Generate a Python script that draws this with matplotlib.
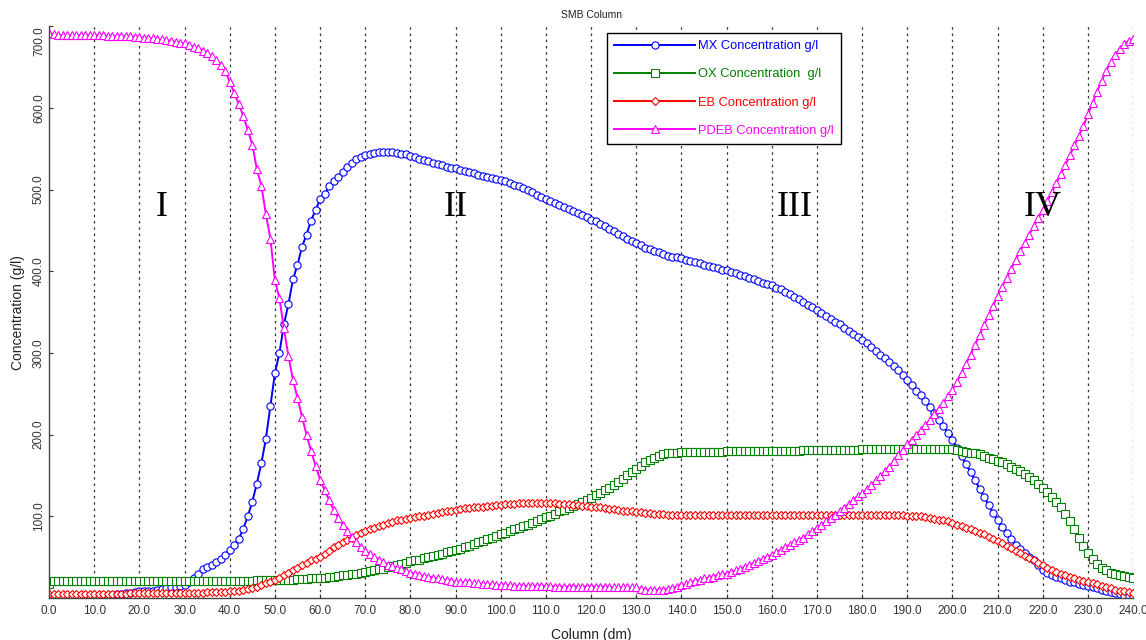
import numpy as np
import matplotlib
matplotlib.use("Agg")
import matplotlib.pyplot as plt

# column position (dm), one sample per dm
column = np.arange(0, 241)

mx = [1, 1, 1, 1, 1, 2, 2, 2, 2, 3,
      3, 3, 4, 4, 4, 5, 5, 6, 6, 7,
      8, 8, 9, 9, 10, 11, 12, 13, 14, 15,
      16, 20, 25, 30, 35, 38, 41, 44, 48, 53,
      59, 65, 72, 85, 100, 118, 140, 165, 195, 235,
      275, 300, 335, 360, 390, 408, 430, 445, 462, 475,
      488, 495, 504, 510, 516, 522, 528, 533, 537, 540,
      542, 544, 545, 546, 546, 546, 546, 545, 544, 543,
      541, 540, 538, 536, 535, 533, 531, 530, 528, 527,
      526, 524, 523, 521, 520, 518, 517, 515, 514, 513,
      512, 510, 508, 506, 504, 502, 499, 497, 494, 491,
      488, 486, 484, 481, 479, 476, 474, 471, 469, 466,
      463, 461, 458, 455, 452, 449, 446, 443, 440, 437,
      435, 432, 429, 427, 425, 423, 421, 419, 418, 417,
      416, 414, 413, 411, 410, 408, 407, 405, 404, 402,
      401, 399, 398, 396, 394, 392, 390, 388, 386, 384,
      383, 380, 378, 375, 372, 369, 366, 363, 359, 356,
      352, 349, 345, 342, 338, 335, 331, 327, 323, 320,
      316, 312, 307, 303, 298, 294, 289, 284, 279, 273,
      267, 261, 254, 248, 241, 234, 226, 218, 210, 202,
      193, 184, 174, 164, 154, 144, 134, 124, 114, 104,
      95, 87, 79, 72, 65, 60, 55, 50, 46, 40,
      34, 31, 28, 26, 24, 22, 20, 19, 17, 16,
      15, 14, 12, 10, 9, 7, 6, 5, 3, 2,
      1]

ox = [17, 21, 21, 21, 21, 21, 21, 21, 21, 21,
      21, 21, 21, 21, 21, 21, 21, 21, 21, 21,
      21, 21, 21, 21, 21, 21, 21, 21, 21, 21,
      21, 21, 21, 21, 21, 21, 21, 21, 21, 21,
      21, 21, 21, 21, 21, 21, 22, 22, 22, 22,
      22, 22, 22, 22, 22, 23, 23, 23, 24, 24,
      25, 25, 26, 26, 27, 28, 28, 29, 30, 31,
      32, 33, 34, 35, 36, 38, 39, 40, 42, 43,
      45, 46, 47, 49, 50, 51, 53, 54, 56, 57,
      59, 60, 62, 64, 66, 68, 70, 72, 74, 76,
      78, 80, 82, 84, 86, 88, 90, 92, 94, 97,
      99, 101, 103, 106, 108, 110, 113, 115, 118, 120,
      123, 126, 129, 132, 135, 138, 142, 146, 150, 154,
      158, 162, 166, 169, 172, 174, 176, 177, 178, 178,
      179, 179, 179, 179, 179, 179, 179, 179, 179, 179,
      180, 180, 180, 180, 180, 180, 180, 180, 180, 180,
      180, 180, 180, 180, 180, 180, 180, 181, 181, 181,
      181, 181, 181, 181, 181, 181, 181, 181, 181, 181,
      182, 182, 182, 182, 182, 182, 182, 182, 182, 182,
      182, 182, 182, 182, 182, 182, 182, 182, 182, 182,
      182, 181, 180, 179, 178, 177, 176, 174, 172, 170,
      168, 166, 164, 161, 158, 155, 152, 148, 144, 140,
      135, 130, 124, 118, 111, 103, 94, 84, 74, 64,
      55, 48, 42, 37, 34, 31, 29, 28, 27, 26,
      25]

eb = [5, 5, 5, 5, 5, 5, 5, 5, 5, 5,
      5, 5, 5, 5, 5, 5, 5, 5, 6, 6,
      6, 6, 6, 6, 6, 6, 6, 6, 6, 6,
      6, 6, 6, 6, 6, 7, 7, 7, 7, 7,
      8, 8, 9, 10, 11, 12, 14, 16, 18, 20,
      22, 25, 28, 31, 34, 37, 40, 43, 46, 48,
      50, 54, 58, 62, 65, 68, 71, 74, 77, 80,
      82, 84, 86, 88, 90, 92, 93, 95, 96, 97,
      98, 99, 100, 101, 102, 103, 104, 105, 106, 107,
      108, 109, 110, 110, 111, 112, 112, 113, 113, 114,
      114, 115, 115, 115, 116, 116, 116, 116, 116, 116,
      116, 116, 116, 115, 115, 115, 114, 114, 113, 113,
      112, 111, 111, 110, 109, 109, 108, 107, 107, 106,
      105, 105, 104, 104, 103, 103, 103, 102, 102, 102,
      102, 102, 102, 102, 102, 102, 102, 102, 102, 102,
      102, 102, 102, 102, 102, 102, 102, 102, 102, 102,
      102, 102, 102, 102, 102, 102, 102, 102, 102, 102,
      102, 102, 102, 102, 102, 102, 102, 102, 102, 102,
      102, 102, 102, 102, 102, 102, 102, 102, 102, 102,
      101, 101, 100, 100, 99, 98, 97, 96, 95, 94,
      92, 90, 88, 86, 84, 82, 80, 78, 75, 72,
      70, 67, 64, 61, 58, 55, 52, 49, 46, 43,
      40, 37, 34, 32, 30, 28, 26, 24, 22, 21,
      20, 18, 17, 15, 13, 12, 10, 9, 8, 7,
      6]

pdeb = [692, 690, 689, 689, 689, 689, 689, 689, 689, 689,
        689, 689, 689, 688, 688, 688, 688, 688, 688, 687,
        687, 686, 686, 685, 684, 684, 683, 682, 681, 680,
        679, 677, 675, 673, 670, 667, 663, 659, 653, 645,
        632, 618, 605, 590, 573, 555, 525, 505, 470, 440,
        389, 367, 330, 296, 267, 245, 222, 200, 180, 162,
        145, 132, 120, 108, 98, 90, 82, 75, 69, 63,
        58, 54, 50, 47, 44, 41, 39, 37, 35, 33,
        31, 30, 28, 27, 26, 25, 24, 23, 22, 21,
        20, 20, 19, 19, 18, 18, 17, 17, 17, 16,
        16, 16, 16, 15, 15, 15, 15, 15, 15, 15,
        15, 15, 14, 14, 14, 14, 14, 14, 14, 14,
        14, 14, 14, 14, 14, 13, 13, 13, 13, 13,
        13, 11, 10, 10, 10, 10, 10, 11, 12, 14,
        16, 17, 19, 21, 22, 24, 25, 26, 28, 29,
        30, 32, 34, 36, 38, 40, 43, 45, 48, 50,
        53, 56, 59, 62, 65, 68, 71, 74, 78, 82,
        86, 90, 94, 98, 102, 106, 110, 115, 120, 125,
        128, 133, 138, 144, 149, 155, 161, 168, 175, 181,
        188, 194, 200, 206, 212, 218, 225, 232, 239, 247,
        255, 265, 276, 287, 298, 310, 322, 334, 346, 358,
        370, 381, 392, 403, 414, 425, 435, 445, 455, 465,
        475, 486, 497, 508, 519, 530, 542, 554, 566, 578,
        592, 606, 620, 633, 645, 656, 665, 672, 678, 682,
        684]

series = [
    ("MX Concentration g/l", mx, "#0000ff", "o"),
    ("OX Concentration  g/l", ox, "#008000", "s"),
    ("EB Concentration g/l", eb, "#ff0000", "D"),
    ("PDEB Concentration g/l", pdeb, "#ff00ff", "^"),
]

zones = ["I", "II", "III", "IV"]
zone_x = [25, 90, 165, 220]
zone_y = [468, 468, 468, 468]

plt.rcParams["font.family"] = ["Liberation Sans", "DejaVu Sans"]

fig = plt.figure(figsize=(11.46, 6.4), dpi=100)
ax = fig.add_axes([0.0428, 0.0656, 0.946, 0.8934])

for label, vals, color, marker in series:
    ms = 4.4 if marker == "D" else 5.2
    ax.plot(column, vals, color=color, lw=1.4, marker=marker, ms=ms,
            mfc="white", mec=color, mew=0.8, label=label)

for xv in range(10, 250, 10):
    ax.axvline(xv, color="#333333", lw=0.9, ls=(0, (2, 3)), zorder=0)

for txt, zx, zy in zip(zones, zone_x, zone_y):
    ax.text(zx, zy, txt, fontsize=26, family=["Liberation Serif", "DejaVu Serif"],
            ha="center", va="baseline", color="black")

ax.set_xlim(0, 240)
ax.set_ylim(0, 700)
ax.set_xticks(range(0, 250, 10))
ax.set_xticklabels([f"{v:.1f}" for v in range(0, 250, 10)], fontsize=8.5, color="#333333")
ax.set_yticks(range(100, 800, 100))
ax.set_yticklabels([f"{v:.1f}" for v in range(100, 800, 100)], fontsize=8.5,
                   rotation=90, va="center", color="#333333")
ax.get_yticklabels()[-1].set_va("top")
ax.tick_params(axis="both", direction="in", length=3, color="#333333")
ax.tick_params(axis="x", pad=5)
ax.tick_params(axis="y", pad=3)

for side in ("top", "right"):
    ax.spines[side].set_visible(False)
for side in ("left", "bottom"):
    ax.spines[side].set_color("#444444")
    ax.spines[side].set_linewidth(1.0)

ax.set_xlabel("Column (dm)", fontsize=10, color="#222222", labelpad=8)
ax.set_ylabel("Concentration (g/l)", fontsize=10, color="#222222", labelpad=6)
ax.set_title("SMB Column", fontsize=7.5, color="#222222", pad=6)

leg = ax.legend(loc="upper left", bbox_to_anchor=(0.515, 0.988), fontsize=9.3,
                handlelength=6.2, numpoints=1, fancybox=False, framealpha=1,
                edgecolor="black", borderpad=0.55, labelspacing=1.25,
                handletextpad=0.3, borderaxespad=0)
leg.get_frame().set_linewidth(1.0)
for text, (_, _, color, _) in zip(leg.get_texts(), series):
    text.set_color(color)

fig.savefig("out.png", dpi=100)
